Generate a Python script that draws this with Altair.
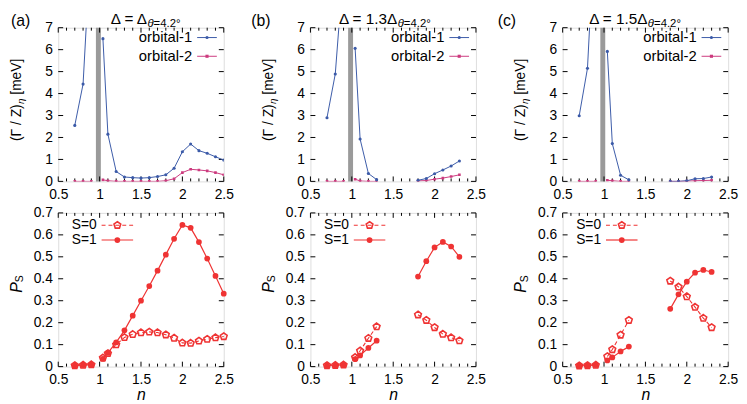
import altair as alt
import pandas as pd

# ---------------- data ----------------
n_a = [0.7, 0.8, 0.9, 1.04, 1.1, 1.2, 1.3, 1.4, 1.5, 1.6, 1.7, 1.8, 1.9, 2.0, 2.1, 2.2, 2.3, 2.4, 2.5]
seg_a = [1, 1, 1, 2, 2, 2, 2, 2, 2, 2, 2, 2, 2, 2, 2, 2, 2, 2, 2]
orb1_a = [2.55, 4.43, 11.3, 6.5, 2.15, 0.45, 0.2, 0.17, 0.15, 0.17, 0.22, 0.3, 0.6, 1.35, 1.7, 1.4, 1.28, 1.12, 0.97]
orb2_a = [0.0, 0.0, 0.0, 0.07, 0.03, 0.0, 0.0, 0.0, 0.0, 0.0, 0.0, 0.03, 0.12, 0.4, 0.55, 0.52, 0.48, 0.4, 0.3]
s0_a = [0.005, 0.007, 0.009, 0.04, 0.06, 0.1, 0.133, 0.147, 0.155, 0.158, 0.155, 0.145, 0.13, 0.108, 0.107, 0.117, 0.125, 0.132, 0.137]
s1_a = [0.005, 0.007, 0.009, 0.035, 0.062, 0.11, 0.165, 0.232, 0.3, 0.367, 0.437, 0.51, 0.582, 0.645, 0.632, 0.567, 0.492, 0.413, 0.332]

n_bc = [0.7, 0.8, 0.9, 1.04, 1.1, 1.2, 1.3, 1.8, 1.9, 2.0, 2.1, 2.2, 2.3]
seg_bc = [1, 1, 1, 2, 2, 2, 2, 3, 3, 3, 3, 3, 3]
orb1_b = [2.9, 4.89, 9.8, 6.06, 1.93, 0.36, 0.08, 0.05, 0.13, 0.35, 0.52, 0.7, 0.93]
orb2_b = [0.0, 0.0, 0.0, 0.1, 0.02, 0.0, 0.0, 0.02, 0.04, 0.1, 0.15, 0.22, 0.3]
s0_b = [0.005, 0.006, 0.008, 0.042, 0.072, 0.129, 0.182, 0.236, 0.211, 0.178, 0.148, 0.132, 0.118]
s1_b = [0.005, 0.006, 0.008, 0.034, 0.051, 0.085, 0.118, 0.41, 0.48, 0.543, 0.568, 0.547, 0.5]

orb1_c = [2.99, 5.15, 12.5, 5.92, 1.72, 0.28, 0.07, 0.0, 0.0, 0.03, 0.12, 0.13, 0.2]
orb2_c = [0.0, 0.0, 0.0, 0.05, 0.03, 0.0, 0.0, 0.0, 0.0, 0.01, 0.03, 0.04, 0.05]
s0_c = [0.004, 0.005, 0.007, 0.046, 0.078, 0.144, 0.211, 0.39, 0.363, 0.319, 0.271, 0.221, 0.178]
s1_c = [0.004, 0.005, 0.007, 0.028, 0.042, 0.069, 0.091, 0.263, 0.329, 0.387, 0.428, 0.44, 0.431]

panel_tags = ["(a)", "(b)", "(c)"]
title_main = ["Δ = Δ", "Δ = 1.3Δ", "Δ = 1.5Δ"]
title_sub = "=4.2°"
series_top = ["orbital-1", "orbital-2"]
series_bot = ["S=0", "S=1"]

x_major = [0.5, 1.0, 1.5, 2.0, 2.5]
x_minor = [0.6, 0.7, 0.8, 0.9, 1.1, 1.2, 1.3, 1.4, 1.6, 1.7, 1.8, 1.9, 2.1, 2.2, 2.3, 2.4]
y_top_major = [0, 1, 2, 3, 4, 5, 6, 7]
y_bot_major = [0, 0.1, 0.2, 0.3, 0.4, 0.5, 0.6, 0.7]
singular_n = [0.985]

# ---------------- style ----------------
W, H = 168, 156
FONT = "Liberation Sans"
LBL = 14
BLUE = "#3b5aa8"
MAG = "#cc3a7e"
RED = "#ef3333"
GRAY = "#9a9a9a"
PENT = "M0,-1L0.951,-0.309L0.588,0.809L-0.588,0.809L-0.951,-0.309Z"

XSC = alt.Scale(domain=[0.5, 2.5], nice=False, zero=False)
YSC_TOP = alt.Scale(domain=[0, 7], nice=False)
YSC_BOT = alt.Scale(domain=[0, 0.7], nice=False)


def xenc(title):
    if title:
        ax = alt.Axis(values=x_major, format="~g", ticks=False, domain=False, grid=False,
                      labelFont=FONT, labelFontSize=LBL, labelColor="black", labelPadding=6,
                      labelFlush=False, labelOverlap=False, title=title, titleFont=FONT,
                      titleFontSize=16, titleFontStyle="italic", titleFontWeight="normal",
                      titleColor="black", titlePadding=0)
        return alt.X("n:Q", scale=XSC, axis=ax)
    ax = alt.Axis(values=x_major, format="~g", ticks=False, domain=False, grid=False,
                  labelFont=FONT, labelFontSize=LBL, labelColor="black", labelPadding=6,
                  labelFlush=False, labelOverlap=False)
    return alt.X("n:Q", scale=XSC, axis=ax, title=None)


def yenc(sc, vals):
    ax = alt.Axis(values=vals, format="~g", ticks=False, domain=False, grid=False,
                  labelFont=FONT, labelFontSize=LBL, labelColor="black", labelPadding=6,
                  labelOverlap=False)
    return alt.Y("v:Q", scale=sc, axis=ax, title=None)


ONE = pd.DataFrame({"k": [0]})


def txt(s, x, y, size=14, align="left", baseline="middle", angle=0, style="normal", color="black"):
    return alt.Chart(ONE).mark_text(text=s, font=FONT, fontSize=size, align=align, baseline=baseline,
                                    angle=angle, fontStyle=style, color=color).encode(
        x=alt.value(x), y=alt.value(y))


def ticks(xe, ye, yvals, major_len=5, minor_len=3):
    layers = []
    dmaj = pd.DataFrame({"n": x_major})
    dmin = pd.DataFrame({"n": x_minor})
    for d, L in ((dmaj, major_len), (dmin, minor_len)):
        layers.append(alt.Chart(d).mark_rule(color="black", strokeWidth=1).encode(
            x=xe, y=alt.value(H), y2=alt.value(H - L)))
        layers.append(alt.Chart(d).mark_rule(color="black", strokeWidth=1).encode(
            x=xe, y=alt.value(0), y2=alt.value(L)))
    dy = pd.DataFrame({"v": yvals})
    layers.append(alt.Chart(dy).mark_rule(color="black", strokeWidth=1).encode(
        y=ye, x=alt.value(0), x2=alt.value(major_len)))
    layers.append(alt.Chart(dy).mark_rule(color="black", strokeWidth=1).encode(
        y=ye, x=alt.value(W), x2=alt.value(W - major_len)))
    return layers


def top_panel(n, seg, o1, o2, idx, split, tag_x):
    xe = xenc(None)
    ye = yenc(YSC_TOP, y_top_major)
    d1 = pd.DataFrame({"n": n, "v": o1, "seg": seg})
    d2 = pd.DataFrame({"n": n, "v": o2, "seg": seg})
    layers = []
    layers.append(alt.Chart(pd.DataFrame({"n": singular_n})).mark_rule(color=GRAY, strokeWidth=5).encode(x=xe))
    layers += ticks(xe, ye, y_top_major)
    layers.append(alt.Chart(d2).mark_line(color=MAG, strokeWidth=1, clip=True).encode(x=xe, y=ye, detail="seg:N"))
    layers.append(alt.Chart(d2).mark_point(shape="square", filled=True, color=MAG, size=7, opacity=1, clip=True).encode(x=xe, y=ye))
    layers.append(alt.Chart(d1).mark_line(color=BLUE, strokeWidth=1, clip=True).encode(x=xe, y=ye, detail="seg:N"))
    layers.append(alt.Chart(d1).mark_point(shape="circle", filled=True, color=BLUE, size=10, opacity=1, clip=True).encode(x=xe, y=ye))
    # legend
    for i, (lab, col, shp) in enumerate(zip(series_top, [BLUE, MAG], ["circle", "square"])):
        yy = 10 + 19 * i
        layers.append(txt(lab, 136, yy, size=15, align="right"))
        layers.append(alt.Chart(ONE).mark_rule(color=col, strokeWidth=1).encode(
            x=alt.value(141), x2=alt.value(161), y=alt.value(yy)))
        layers.append(alt.Chart(ONE).mark_point(shape=shp, filled=True, color=col, size=10, opacity=1).encode(
            x=alt.value(151), y=alt.value(yy)))
    # y title (Γ / Z)_η [meV]
    layers.append(txt("(Γ / Z)", -42, 115, size=14, angle=270))
    layers.append(txt("η", -38, 77.5, size=10, angle=270, style="italic"))
    layers.append(txt("[meV]", -42, 68, size=14, angle=270))
    # panel title
    layers.append(txt(title_main[idx], split, -4, size=15.5, align="right", baseline="alphabetic"))
    layers.append(txt("θ", split + 0.5, -1, size=11.5, align="left", baseline="alphabetic", style="italic"))
    layers.append(txt(title_sub, split + 6.8, -1, size=11.5, align="left", baseline="alphabetic"))
    layers.append(txt(panel_tags[idx], tag_x, -15, size=16, align="left", baseline="top"))
    return alt.layer(*layers).properties(width=W, height=H)


def bot_panel(n, seg, s0, s1):
    xe = xenc("n")
    ye = yenc(YSC_BOT, y_bot_major)
    d0 = pd.DataFrame({"n": n, "v": s0, "seg": seg})
    d1 = pd.DataFrame({"n": n, "v": s1, "seg": seg})
    layers = []
    layers += ticks(xe, ye, y_bot_major)
    layers.append(alt.Chart(d0).mark_line(color=RED, strokeWidth=1.1, strokeDash=[4, 3]).encode(x=xe, y=ye, detail="seg:N"))
    layers.append(alt.Chart(d0).mark_point(shape=PENT, filled=False, color=RED, size=52, strokeWidth=1.6, opacity=1).encode(x=xe, y=ye))
    layers.append(alt.Chart(d1).mark_line(color=RED, strokeWidth=1.2).encode(x=xe, y=ye, detail="seg:N"))
    layers.append(alt.Chart(d1).mark_point(shape="circle", filled=True, color=RED, size=34, opacity=1).encode(x=xe, y=ye))
    # legend
    for i, lab in enumerate(series_bot):
        yy = 12.5 + 15 * i
        layers.append(txt(lab, 39, yy, size=14, align="right"))
        if i == 0:
            layers.append(alt.Chart(ONE).mark_rule(color=RED, strokeWidth=1.1, strokeDash=[4, 3]).encode(
                x=alt.value(44), x2=alt.value(76), y=alt.value(yy)))
            layers.append(alt.Chart(ONE).mark_point(shape=PENT, filled=False, color=RED, size=52, strokeWidth=1.6, opacity=1).encode(
                x=alt.value(60), y=alt.value(yy)))
        else:
            layers.append(alt.Chart(ONE).mark_rule(color=RED, strokeWidth=1.2).encode(
                x=alt.value(44), x2=alt.value(76), y=alt.value(yy)))
            layers.append(alt.Chart(ONE).mark_point(shape="circle", filled=True, color=RED, size=34, opacity=1).encode(
                x=alt.value(60), y=alt.value(yy)))
    # y title P_S
    layers.append(txt("P", -42, 81, size=16, angle=270, style="italic"))
    layers.append(txt("S", -38.5, 70.5, size=10.5, angle=270))
    return alt.layer(*layers).properties(width=W, height=H)


panels = [
    top_panel(n_a, seg_a, orb1_a, orb2_a, 0, 90, -48),
    top_panel(n_bc, seg_bc, orb1_b, orb2_b, 1, 88, -60),
    top_panel(n_bc, seg_bc, orb1_c, orb2_c, 2, 86, -66),
    bot_panel(n_a, seg_a, s0_a, s1_a),
    bot_panel(n_bc, seg_bc, s0_b, s1_b),
    bot_panel(n_bc, seg_bc, s0_c, s1_c),
]

chart = alt.concat(*panels, columns=3, spacing={"row": 32, "column": 88}, bounds="flush").properties(
    padding={"left": 0, "top": 0, "right": 0, "bottom": 0}
).configure_view(stroke="black", strokeWidth=1).configure(background="white")

chart.save("out.html", embed_options={"renderer": "svg", "actions": False})
